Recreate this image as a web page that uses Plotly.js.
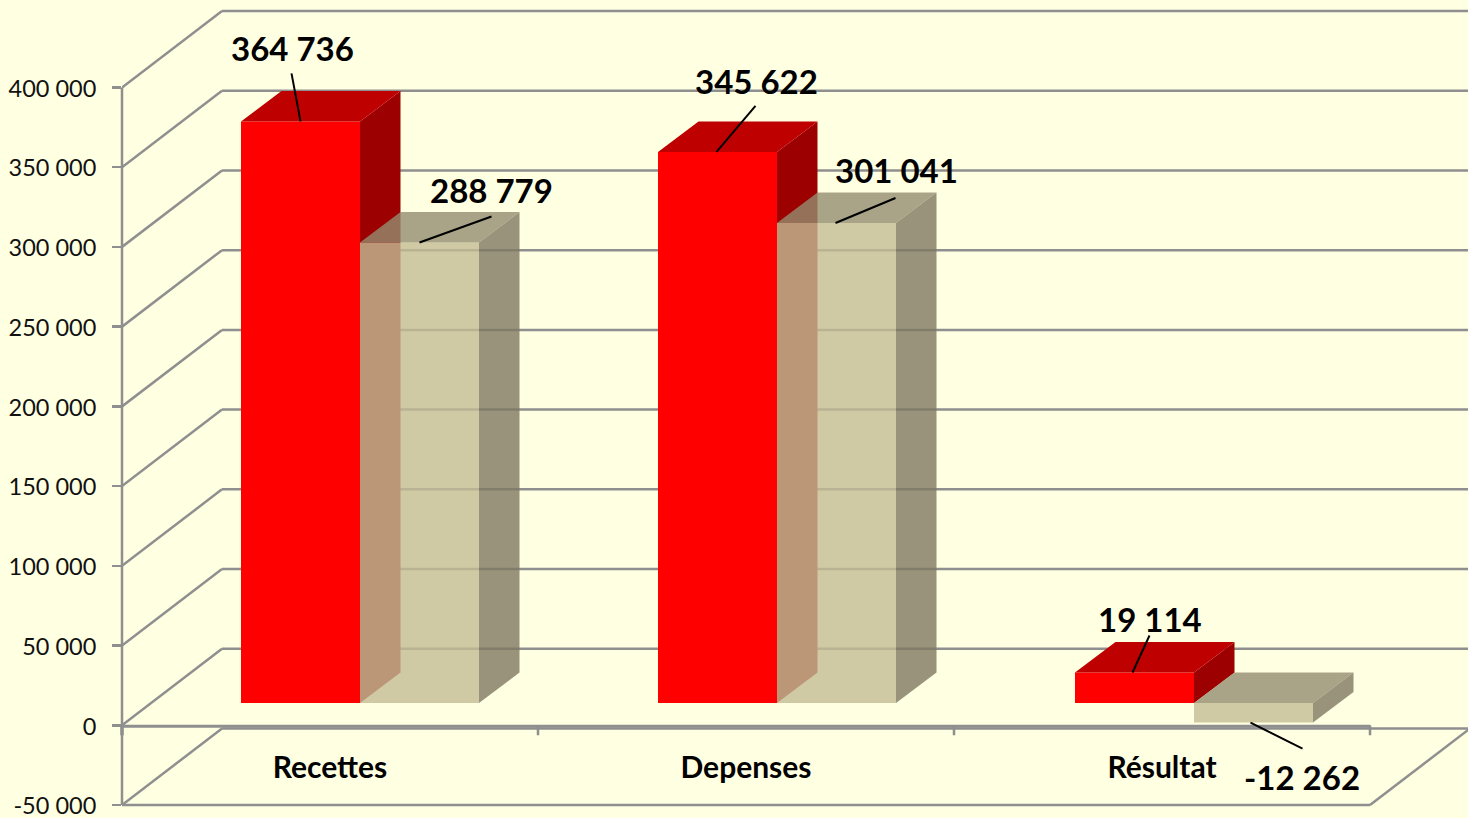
<!DOCTYPE html>
<html>
<head>
<meta charset="utf-8">
<script src="https://cdn.plot.ly/plotly-3.0.1.min.js"></script>
<style>html,body{margin:0;padding:0;background:#FFFFE2;overflow:hidden}#chart{width:1468px;height:818px}</style>
</head>
<body>
<div id="chart"></div>
<script>
// ---- data ----
const categories = ['Recettes', 'Depenses', 'Résultat'];
const recettesSeries = [364736, 345622, 19114];
const depensesSeries = [288779, 301041, -12262];
const yTickValues = [-50000, 0, 50000, 100000, 150000, 200000, 250000, 300000, 350000, 400000];

// ---- pixel geometry of the oblique projection ----
const W = 1468, H = 818;
const plotLeft = 122, catPx = 416;
const yPx400k = 87.5, yPxM50k = 805;
const ppv = (yPxM50k - yPx400k) / 450000;
const xRange = [0, (W - plotLeft) / catPx];
const yRange = [-50000 - (H - yPxM50k) / ppv, 400000 + yPx400k / ppv];
const dxU = px => px / catPx, dyU = px => px / ppv;
const wallDx = dxU(100), wallDy = dyU(76.5);
const barDx = dxU(40.5), barDy = dyU(30.5);
const frontBase = dyU(22.3);
const barW = dxU(119), firstEdge = dxU(119);
const groupStep = dxU(417);
const red = {front: '#FF0000', top: '#BF0000', side: '#9C0000'};
const beige = {front: 'rgba(195,188,149,0.8)', top: 'rgba(147,141,112,0.8)', side: 'rgba(126,120,96,0.8)'};
const gridCol = '#8F8F8F';
const FONT = 'Lato, Carlito, sans-serif';
const fmt = v => (v < 0 ? '-' : '') + String(Math.abs(v)).replace(/\B(?=(\d{3})+$)/g, ' ');

const centers = categories.map((_, i) => i + 0.5);
const groupLeft = i => i * groupStep;

function faces(values, leftEdge) {
  const side = {x: [], y: []}, top = {x: [], y: []};
  values.forEach((v, i) => {
    const xl = groupLeft(i) + leftEdge, xr = xl + barW;
    const hi = frontBase + Math.max(v, 0), lo = frontBase + Math.min(v, 0);
    side.x.push(xr, xr + barDx, xr + barDx, xr, xr, null);
    side.y.push(lo, lo + barDy, hi + barDy, hi, lo, null);
    top.x.push(xl, xr, xr + barDx, xl + barDx, xl, null);
    top.y.push(hi, hi, hi + barDy, hi + barDy, hi, null);
  });
  return {side, top};
}
function polyTrace(p, col, xa, ya) {
  return {type: 'scatter', mode: 'lines', x: p.x, y: p.y, fill: 'toself', fillcolor: col,
          line: {width: 0, color: col}, hoverinfo: 'skip', showlegend: false, xaxis: xa, yaxis: ya};
}
function barTrace(name, values, leftEdge, col, xa, ya) {
  return {type: 'bar', name, x: centers, y: values, base: values.map(() => frontBase),
          width: values.map(() => barW),
          offset: values.map((_, i) => groupLeft(i) + leftEdge - centers[i]),
          marker: {color: col, line: {width: 0}}, showlegend: false, xaxis: xa, yaxis: ya};
}

const redEdge = firstEdge, beigeEdge = firstEdge + barW;
const redF = faces(recettesSeries, redEdge), beigeF = faces(depensesSeries, beigeEdge);

// Label centres and leader-line anchors, as pixel offsets from the top-centre of each front face
const labelOffsets = {
  a: [[-8, -73.5], [39, -70.5], [15.5, -53.5]],
  b: [[72, -52.5], [59.5, -52.5], [48, 54]]
};
const leaderOffsets = {
  a: [[-9, -48], [39, -46], [17, -37]],
  b: [[72, -26], [60, -25], [52, 26]]
};
const leaderStart = {a: [0, -1, -2], b: [0, -1, -3]};
const leader = {x: [], y: []}, annotations = [];
[[recettesSeries, redEdge, 'a'], [depensesSeries, beigeEdge, 'b']].forEach(([vals, edge, k]) => {
  vals.forEach((v, i) => {
    const px = groupLeft(i) + edge + barW / 2, py = frontBase + v;
    const lo = leaderOffsets[k][i], to = labelOffsets[k][i], st = dxU(leaderStart[k][i]);
    leader.x.push(px + st, px + st + dxU(lo[0]), null);
    leader.y.push(py, py - dyU(lo[1]), null);
    annotations.push({xref: 'x', yref: 'y', x: px + dxU(to[0]), y: py - dyU(to[1]),
      text: '<b>' + fmt(v) + '</b>', showarrow: false, xanchor: 'center', yanchor: 'middle',
      font: {family: FONT, size: 33, color: '#000'}});
  });
});

// Walls, floor and axis lines
const shapes = [];
const seg = (x0, y0, x1, y1, w, xref) => shapes.push({type: 'line', layer: 'below', xref: xref || 'x', yref: 'y',
  x0, y0, x1, y1, line: {color: gridCol, width: w || 2.5}});
yTickValues.forEach(v => {
  seg(0, v, wallDx, v + wallDy);
  seg(wallDx, v + wallDy, xRange[1], v + wallDy);
});
seg(0, -50000, categories.length, -50000);
seg(categories.length, -50000, categories.length + wallDx, -50000 + wallDy);
seg(0, dyU(-1), categories.length, dyU(-1), 3);
seg(0, -50000, 0, 400000, 2.5, 'paper');
seg(0, 0, 0, dyU(-10), 3.5, 'paper');
for (let i = 1; i <= categories.length; i++) seg(i, 0, i, dyU(-10));

const data = [
  barTrace('Série 1', recettesSeries, redEdge, red.front, 'x', 'y'),
  polyTrace(redF.side, red.side, 'x', 'y'),
  polyTrace(redF.top, red.top, 'x', 'y'),
  barTrace('Série 2', depensesSeries, beigeEdge, beige.front, 'x2', 'y2'),
  polyTrace(beigeF.side, beige.side, 'x2', 'y2'),
  polyTrace(beigeF.top, beige.top, 'x2', 'y2'),
  {type: 'scatter', mode: 'lines', x: leader.x, y: leader.y, line: {color: '#000', width: 2},
   hoverinfo: 'skip', showlegend: false, xaxis: 'x2', yaxis: 'y2'}
];

const layout = {
  width: W, height: H,
  margin: {l: plotLeft, r: 0, t: 0, b: 0, pad: 0},
  paper_bgcolor: '#FFFFE2', plot_bgcolor: '#FFFFE2',
  showlegend: false, barmode: 'overlay',
  xaxis: {range: xRange, type: 'linear', anchor: 'free', position: (H - 725) / H,
    tickmode: 'array', tickvals: centers, ticktext: categories.map(c => '<b>' + c + '</b>'),
    ticks: '', ticklen: 0, ticklabelstandoff: 22, showgrid: false, zeroline: false, showline: false,
    tickfont: {family: FONT, size: 30, color: '#000'}},
  yaxis: {range: yRange, type: 'linear', tickmode: 'array', tickvals: yTickValues,
    ticktext: yTickValues.map(fmt), ticks: 'outside', ticklen: 9, tickwidth: 2.5, tickcolor: gridCol,
    ticklabelstandoff: 11, ticklabelshift: 1, ticklabeloverflow: 'allow', showgrid: false, zeroline: false, showline: false,
    tickfont: {family: FONT, size: 23.5, color: '#111'}},
  xaxis2: {range: xRange, overlaying: 'x', visible: false, anchor: 'y2'},
  yaxis2: {range: yRange, overlaying: 'y', visible: false, anchor: 'x2'},
  shapes, annotations
};
Plotly.newPlot('chart', data, layout, {displayModeBar: false, staticPlot: true});
</script>
</body>
</html>
